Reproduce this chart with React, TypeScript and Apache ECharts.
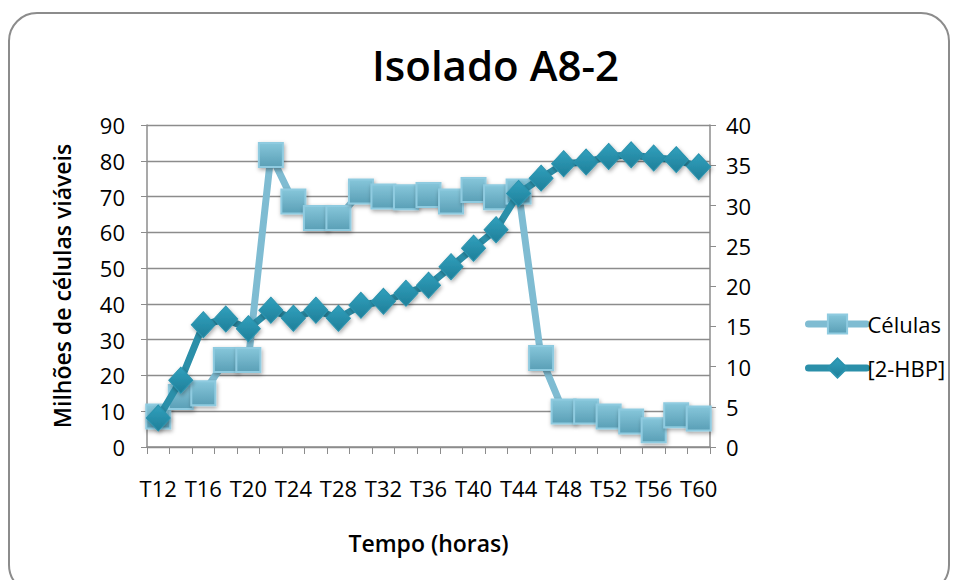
import React, { useEffect, useRef } from "react";
import * as echarts from "echarts";

const categories = ["T12","T14","T16","T18","T20","T22","T24","T26","T28","T30","T32","T34","T36","T38","T40","T42","T44","T46","T48","T50","T52","T54","T56","T58","T60"];
const celulas = [8.5,14,15,24.3,24.3,81.6,68.6,64,64,71.4,70,69.8,70.4,68.6,71.8,69.8,71.4,24.9,9.9,9.9,8.5,7.1,4.7,8.9,8.0];
const hbp = [3.6,8.3,15.2,15.9,14.7,17.0,16.0,17.0,16.0,17.6,18.1,19.1,20.1,22.4,24.7,27.0,31.5,33.4,35.2,35.4,36.1,36.3,35.9,35.7,34.8];
const leftTicks = { min: 0, max: 90, interval: 10 };
const rightTicks = { min: 0, max: 40, interval: 5 };

const FONT = "'Open Sans', 'Liberation Sans', sans-serif";

export default function App() {
  const ref = useRef<HTMLDivElement>(null);
  useEffect(() => {
    document.body.style.margin = "0";
    const chart = echarts.init(ref.current!, null, { renderer: "svg" });
    const celColor = new echarts.graphic.LinearGradient(0, 0, 0, 1, [
      { offset: 0, color: "#86c6da" },
      { offset: 1, color: "#5a9fb6" },
    ]);
    const hbpColor = new echarts.graphic.LinearGradient(0, 0, 0, 1, [
      { offset: 0, color: "#31a0bd" },
      { offset: 1, color: "#1f7f99" },
    ]);
    chart.setOption({
      animation: false,
      backgroundColor: "#ffffff",
      textStyle: { fontFamily: FONT },
      graphic: [
        {
          type: "rect",
          shape: { x: 9, y: 13, width: 940, height: 580, r: 28 },
          style: { fill: "none", stroke: "#8c8c8c", lineWidth: 2 },
          z: -10,
        },
      ],
      title: {
        text: "Isolado A8-2",
        left: 367,
        top: 38,
        textStyle: { fontFamily: FONT, fontSize: 42, fontWeight: 600, color: "#000" },
      },
      legend: {
        orient: "vertical",
        left: 800,
        top: 308,
        itemGap: 22,
        itemWidth: 58,
        itemHeight: 24,
        lineStyle: { width: 7, cap: "round" },
        textStyle: { fontFamily: FONT, fontSize: 22, color: "#000", padding: [0, 0, 0, -4] },
        data: ["Células", "[2-HBP]"],
      },
      grid: { left: 147, right: 248, top: 125, bottom: 133, containLabel: false },
      xAxis: {
        type: "category",
        data: categories,
        boundaryGap: true,
        name: "Tempo (horas)",
        nameLocation: "middle",
        nameGap: 84,
        nameTextStyle: { fontFamily: FONT, fontSize: 23, fontWeight: 600, color: "#000" },
        axisLine: { lineStyle: { color: "#8c8c8c", width: 1.5 } },
        axisTick: { show: true, interval: 0, length: 7, lineStyle: { color: "#8c8c8c" } },
        axisLabel: { interval: 1, fontSize: 22, color: "#000", margin: 30, fontFamily: FONT },
      },
      yAxis: [
        {
          type: "value",
          ...leftTicks,
          name: "Milhões de células viáveis",
          nameLocation: "middle",
          nameGap: 74,
          nameRotate: 90,
          nameTextStyle: { fontFamily: FONT, fontSize: 23, fontWeight: 600, color: "#000" },
          axisLine: { show: true, lineStyle: { color: "#8c8c8c", width: 1.5 } },
          axisTick: { show: true, length: 6, lineStyle: { color: "#8c8c8c" } },
          axisLabel: { fontSize: 22, color: "#000", margin: 22, fontFamily: FONT },
          splitLine: { show: true, lineStyle: { color: "#8c8c8c", width: 1.3 } },
        },
        {
          type: "value",
          ...rightTicks,
          position: "right",
          axisLine: { show: true, lineStyle: { color: "#8c8c8c", width: 1.5 } },
          axisTick: { show: true, length: 6, lineStyle: { color: "#8c8c8c" } },
          axisLabel: { fontSize: 22, color: "#000", margin: 16, fontFamily: FONT },
          splitLine: { show: false },
        },
      ],
      series: [
        {
          name: "Células",
          type: "line",
          yAxisIndex: 0,
          data: celulas,
          symbol: "rect",
          symbolSize: 24,
          showAllSymbol: true,
          lineStyle: { color: "#7fbcd2", width: 7 },
          itemStyle: {
            color: celColor,
            borderColor: "#8fcbe0",
            borderWidth: 2,
            shadowColor: "rgba(0,0,0,0.35)",
            shadowBlur: 4,
            shadowOffsetX: 1,
            shadowOffsetY: 2,
          },
          z: 2,
        },
        {
          name: "[2-HBP]",
          type: "line",
          yAxisIndex: 1,
          data: hbp,
          symbol: "diamond",
          symbolSize: [24, 26],
          showAllSymbol: true,
          lineStyle: { color: "#2b8fa9", width: 7 },
          itemStyle: {
            color: hbpColor,
            borderColor: "#2b93ae",
            borderWidth: 1,
            shadowColor: "rgba(0,0,0,0.35)",
            shadowBlur: 4,
            shadowOffsetX: 1,
            shadowOffsetY: 2,
          },
          z: 3,
        },
      ],
    });
    return () => chart.dispose();
  }, []);
  return <div ref={ref} style={{ width: 958, height: 580 }} />;
}
